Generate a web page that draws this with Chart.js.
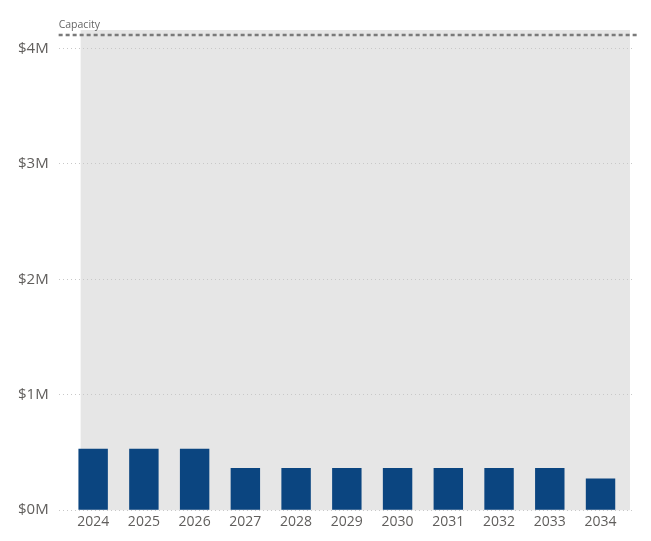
<!DOCTYPE html>
<html>
<head>
<meta charset="utf-8">
<script src="https://cdn.jsdelivr.net/npm/chart.js@4/dist/chart.umd.min.js"></script>
<style>
html,body{margin:0;padding:0;background:#fff;}
#wrap{width:651px;height:541px;position:relative;}
</style>
</head>
<body>
<div id="wrap"><canvas id="c"></canvas></div>
<script>
const years = ['2024','2025','2026','2027','2028','2029','2030','2031','2032','2033','2034'];
const amounts = [532000, 532000, 532000, 365000, 365000, 365000, 365000, 365000, 365000, 365000, 275000];
const capacity = 4120000;
const yTicks = [0, 1000000, 2000000, 3000000, 4000000];

const FONT = '"Open Sans", "Noto Sans", sans-serif';

const bgPlugin = {
  id: 'bgBand',
  beforeDraw(chart) {
    const {ctx, chartArea} = chart;
    ctx.save();
    ctx.fillStyle = '#E6E6E6';
    ctx.fillRect(chartArea.left + 22, chartArea.top, chartArea.right - chartArea.left - 25, chartArea.bottom - chartArea.top);
    ctx.restore();
  }
};

const capPlugin = {
  id: 'capacity',
  afterDatasetsDraw(chart) {
    const {ctx, chartArea, scales} = chart;
    const y = Math.round(scales.y.getPixelForValue(capacity));
    ctx.save();
    ctx.strokeStyle = '#7A7A7A';
    ctx.lineWidth = 2.5;
    ctx.setLineDash([4, 3]);
    ctx.beginPath();
    ctx.moveTo(chartArea.left, y);
    ctx.lineTo(chartArea.right + 4, y);
    ctx.stroke();
    ctx.setLineDash([]);
    ctx.fillStyle = '#666666';
    ctx.font = '10.5px ' + FONT;
    ctx.textBaseline = 'alphabetic';
    ctx.textAlign = 'left';
    ctx.fillText('Capacity', chartArea.left, y - 7);
    ctx.restore();
  }
};

new Chart(document.getElementById('c'), {
  type: 'bar',
  data: {
    datasets: [{
      label: 'Amount',
      data: years.map((yr, i) => ({x: i, y: amounts[i]})),
      backgroundColor: '#0B4580',
      borderWidth: 0,
      barPercentage: 0.58,
      categoryPercentage: 1
    }]
  },
  options: {
    responsive: true,
    maintainAspectRatio: false,
    animation: false,
    layout: {padding: {top: 30, right: 18, bottom: 8, left: 8}},
    plugins: {legend: {display: false}, tooltip: {enabled: false}},
    scales: {
      x: {
        type: 'linear',
        offset: false,
        min: -0.68,
        max: 10.64,
        afterBuildTicks(scale) { scale.ticks = years.map((y, i) => ({value: i})); },
        grid: {display: false, drawTicks: false, offset: false},
        border: {display: false},
        ticks: {
          callback: v => years[v],
          color: '#605E5C',
          font: {family: FONT, size: 14},
          padding: 3,
          autoSkip: false,
          maxRotation: 0
        }
      },
      y: {
        min: 0,
        max: 4160000,
        afterBuildTicks(scale) { scale.ticks = yTicks.map(v => ({value: v})); },
        grid: {color: '#C8C8C8', drawTicks: false, lineWidth: 1},
        border: {display: false, dash: [1, 3]},
        ticks: {
          callback: v => '$' + (v / 1000000) + 'M',
          color: '#605E5C',
          font: {family: FONT, size: 15},
          padding: 10
        }
      }
    }
  },
  plugins: [bgPlugin, capPlugin]
});
</script>
</body>
</html>
